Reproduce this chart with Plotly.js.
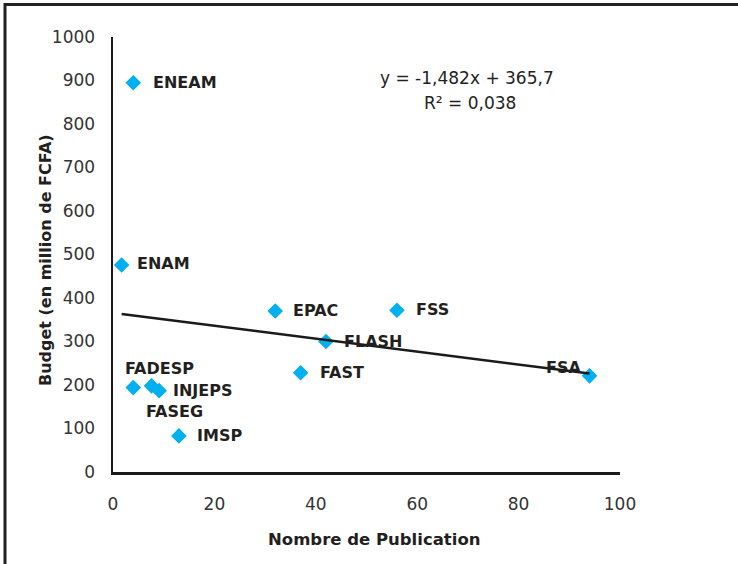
<!DOCTYPE html>
<html>
<head>
<meta charset="utf-8">
<script src="https://cdn.plot.ly/plotly-3.0.1.min.js"></script>
<style>html,body{margin:0;padding:0;background:#fff;}#chart{width:738px;height:564px;}</style>
</head>
<body>
<div id="chart"></div>
<script>
// Data
const etablissements = ["ENEAM","ENAM","EPAC","FSS","FLASH","FAST","FSA","FADESP","FASEG","INJEPS","IMSP"];
const publications  = [4, 1.7, 32, 56, 42, 37, 94, 4, 7.6, 9.1, 13];
const budgets       = [895, 476, 370, 372, 300, 228, 221, 194, 198, 187, 83];
const pente = -1.482;
const ordonnee = 365.7;
const equationTexte = "y = -1,482x + 365,7";
const r2Texte = "R² = 0,038";
const xTitre = "Nombre de Publication";
const yTitre = "Budget (en million de FCFA)";
const xTicks = [0, 20, 40, 60, 80, 100];
const yTicks = [0, 100, 200, 300, 400, 500, 600, 700, 800, 900, 1000];

// Label placement styles (pixel offsets)
const labelStyle = {
  ENEAM:  {xanchor:"left",  xshift:18, yshift:0},
  ENAM:   {xanchor:"left",  xshift:13, yshift:1},
  EPAC:   {xanchor:"left",  xshift:16, yshift:1},
  FSS:    {xanchor:"left",  xshift:17, yshift:1},
  FLASH:  {xanchor:"left",  xshift:16, yshift:0},
  FAST:   {xanchor:"left",  xshift:17, yshift:0},
  FSA:    {xanchor:"right", xshift:-7, yshift:8},
  FADESP: {xanchor:"left",  xshift:-10, yshift:19},
  FASEG:  {xanchor:"left",  xshift:-8, yshift:-26},
  INJEPS: {xanchor:"left",  xshift:12, yshift:0},
  IMSP:   {xanchor:"left",  xshift:16, yshift:0}
};

const FONT = "'DejaVu Sans', 'Open Sans', sans-serif";
const W = 738, H = 564;
const ml = 113, mr = 118, mt = 37, mb = 92;
const plotW = W - ml - mr, plotH = H - mt - mb;
const px2x = p => (p - ml) / plotW;
const px2y = p => (H - mb - p) / plotH;

const xmin = Math.min(...publications), xmax = Math.max(...publications);
const trendX = [xmin, xmax];
const trendY = trendX.map(v => pente * v + ordonnee);

const traces = [
  {
    type: "scatter", mode: "markers",
    x: publications, y: budgets, text: etablissements,
    marker: {symbol: "diamond", size: 12, color: "#00B0F0", line: {width: 0}},
    hoverinfo: "text+x+y", showlegend: false
  },
  {
    type: "scatter", mode: "lines",
    x: trendX, y: trendY,
    line: {color: "#1a1a1a", width: 2.5},
    hoverinfo: "skip", showlegend: false
  }
];

const annotations = etablissements.map((n, i) => Object.assign({
  x: publications[i], y: budgets[i], xref: "x", yref: "y",
  text: n, showarrow: false, yanchor: "middle",
  font: {family: FONT, size: 16, color: "#231F20", weight: "bold"}
}, labelStyle[n]));

annotations.push({
  x: px2x(467), y: px2y(78), xref: "paper", yref: "paper", xanchor: "center", yanchor: "middle",
  text: equationTexte, showarrow: false,
  font: {family: FONT, size: 17, color: "#222"}
});
annotations.push({
  x: px2x(470), y: px2y(103), xref: "paper", yref: "paper", xanchor: "center", yanchor: "middle",
  text: r2Texte, showarrow: false,
  font: {family: FONT, size: 17, color: "#222"}
});
annotations.push({
  x: px2x(374), y: px2y(539), xref: "paper", yref: "paper", xanchor: "center", yanchor: "middle",
  text: xTitre, showarrow: false,
  font: {family: FONT, size: 16.5, color: "#231F20", weight: "bold"}
});
annotations.push({
  x: px2x(45), y: px2y(260), xref: "paper", yref: "paper", xanchor: "center", yanchor: "middle",
  text: yTitre, showarrow: false, textangle: -90,
  font: {family: FONT, size: 16, color: "#231F20", weight: "bold"}
});

const layout = {
  width: W, height: H,
  margin: {l: ml, r: mr, t: mt, b: mb, autoexpand: false},
  paper_bgcolor: "#fff", plot_bgcolor: "#fff",
  showlegend: false,
  xaxis: {
    range: [0, 100], tickvals: xTicks, ticktext: xTicks.map(String),
    showgrid: false, zeroline: false,
    showline: true, linecolor: "#1a1a1a", linewidth: 2.5,
    ticks: "", ticklabelstandoff: 15,
    tickfont: {family: FONT, size: 17, color: "#333"},
    automargin: false, fixedrange: true
  },
  yaxis: {
    range: [0, 1000], tickvals: yTicks, ticktext: yTicks.map(String),
    showgrid: false, zeroline: false,
    showline: true, linecolor: "#1a1a1a", linewidth: 2.5,
    ticks: "", ticklabelstandoff: 12,
    tickfont: {family: FONT, size: 17, color: "#333"},
    automargin: false, fixedrange: true
  },
  annotations: annotations,
  shapes: [{
    type: "rect", xref: "paper", yref: "paper",
    x0: px2x(5), x1: 1.6,
    y0: -0.6, y1: px2y(4.5),
    line: {color: "#222", width: 3}, fillcolor: "rgba(0,0,0,0)", layer: "below"
  }]
};

Plotly.newPlot("chart", traces, layout, {displayModeBar: false, staticPlot: true});
</script>
</body>
</html>
